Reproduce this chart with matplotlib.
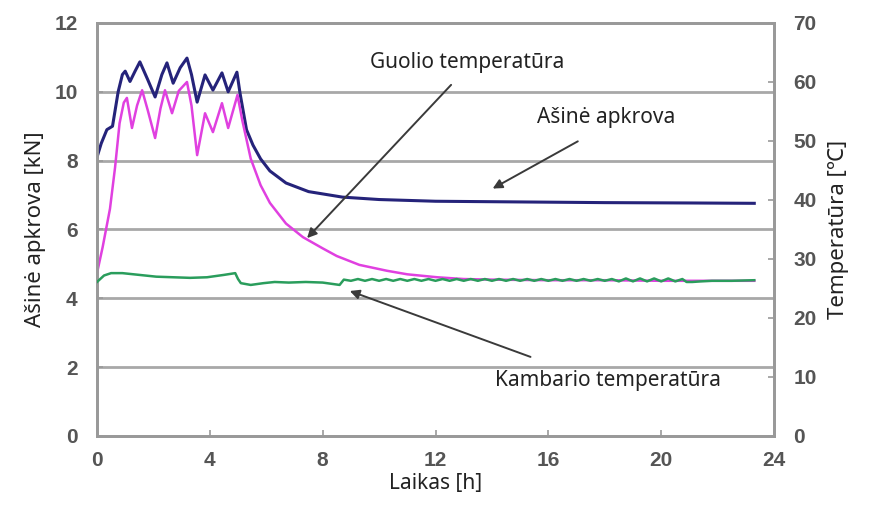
import numpy as np
import matplotlib
matplotlib.use('Agg')
import matplotlib.pyplot as plt

# axial load [kN]
load_t = [0, 0.15, 0.35, 0.55, 0.75, 0.9, 1.0, 1.17, 1.35, 1.52, 1.8, 2.06, 2.3, 2.48, 2.7, 2.95,
          3.19, 3.35, 3.55, 3.83, 4.11, 4.43, 4.65, 4.96, 5.07, 5.3, 5.53, 5.8, 6.13, 6.7, 7.5, 8.7,
          10, 12, 15, 18, 21, 23.3]
load_kn = [8.1, 8.5, 8.9, 9.0, 10.0, 10.5, 10.6, 10.3, 10.6, 10.87, 10.35, 9.85, 10.5, 10.84, 10.25, 10.7,
           10.98, 10.5, 9.7, 10.49, 10.05, 10.55, 10.0, 10.57, 9.96, 8.9, 8.45, 8.05, 7.7, 7.35, 7.1, 6.94,
           6.87, 6.82, 6.8, 6.78, 6.77, 6.76]

# bearing temperature [C]
bear_t = [0, 0.2, 0.46, 0.64, 0.8, 0.95, 1.06, 1.24, 1.42, 1.6, 1.8, 2.06, 2.25, 2.41, 2.66, 2.9,
          3.19, 3.35, 3.55, 3.83, 4.11, 4.43, 4.65, 4.98, 5.15, 5.45, 5.8, 6.13, 6.7, 7.3, 8.0, 8.5,
          9.3, 10.28, 11.0, 12.06, 13.0, 14.0, 16.0, 18.0, 20.0, 22.0, 23.3]
bear_c = [27.6, 32.0, 38.5, 45.5, 53.0, 56.5, 57.3, 52.2, 56.0, 58.6, 55.2, 50.5, 55.5, 58.6, 54.7, 58.5,
          60.0, 56.0, 47.6, 54.7, 51.5, 56.4, 52.2, 57.8, 53.5, 47.0, 42.5, 39.5, 36.0, 33.7, 31.8, 30.5,
          29.0, 28.0, 27.4, 26.9, 26.6, 26.5, 26.4, 26.4, 26.3, 26.3, 26.3]

# room temperature [C]
room_t = [0, 0.25, 0.5, 0.9, 1.5, 2.1, 2.7, 3.3, 3.9, 4.5, 4.9, 5.0, 5.1, 5.45, 5.9, 6.3, 6.8, 7.4, 8.0, 8.6, 8.75,
          9.0, 9.25, 9.5, 9.75, 10.0, 10.25, 10.5, 10.75, 11.0, 11.25, 11.5, 11.75,
          12.0, 12.25, 12.5, 12.75, 13.0, 13.25, 13.5, 13.75, 14.0, 14.25, 14.5, 14.75,
          15.0, 15.25, 15.5, 15.75, 16.0, 16.25, 16.5, 16.75, 17.0, 17.25, 17.5, 17.75,
          18.0, 18.25, 18.5, 18.75, 19.0, 19.25, 19.5, 19.75, 20.0, 20.25, 20.5, 20.75,
          20.9, 21.1, 21.4, 21.8, 22.5, 23.3]
room_c = [26.1, 27.2, 27.6, 27.6, 27.3, 27.0, 26.9, 26.8, 26.9, 27.3, 27.6, 26.6, 25.9, 25.6, 25.9, 26.1, 26.0, 26.1, 26.0, 25.6, 26.5,
          26.3, 26.6, 26.3, 26.6, 26.3, 26.6, 26.3, 26.6, 26.3, 26.6, 26.3, 26.6,
          26.3, 26.6, 26.3, 26.6, 26.3, 26.6, 26.3, 26.6, 26.3, 26.6, 26.3, 26.6,
          26.3, 26.6, 26.3, 26.6, 26.3, 26.6, 26.3, 26.6, 26.3, 26.6, 26.3, 26.6,
          26.3, 26.6, 26.2, 26.7, 26.2, 26.7, 26.2, 26.7, 26.2, 26.7, 26.2, 26.6,
          26.1, 26.1, 26.2, 26.3, 26.3, 26.4]

xticks = [0, 4, 8, 12, 16, 20, 24]
yticks_left = [0, 2, 4, 6, 8, 10, 12]
yticks_right = [0, 10, 20, 30, 40, 50, 60, 70]

grid_col = '#a8a8a8'
tick_col = '#555555'
txt_font = ['Noto Sans', 'DejaVu Sans']

fig = plt.figure(figsize=(8.85, 5.22), dpi=100)
ax = fig.add_axes([0.1096, 0.1648, 0.765, 0.7912])
ax2 = ax.twinx()

ax.set_xlim(0, 24)
ax.set_ylim(0, 12)
ax2.set_ylim(0, 70)

for y in yticks_left[1:-1]:
    ax.axhline(y, color=grid_col, lw=2, zorder=0)

ax2.plot(bear_t, bear_c, color='#e040e0', lw=1.8, zorder=2)
ax2.plot(room_t, room_c, color='#2a9d5c', lw=1.8, zorder=3)
ax.plot(load_t, load_kn, color='#25237a', lw=2.2, zorder=3)

ax.set_xticks(xticks)
ax.set_yticks(yticks_left)
ax2.set_yticks(yticks_right)
for a in (ax, ax2):
    for s in a.spines.values():
        s.set_color('#999999')
        s.set_linewidth(2)
    a.tick_params(direction='in', color='#999999', length=4, width=1.2, labelcolor=tick_col)
    for lab in a.get_xticklabels() + a.get_yticklabels():
        lab.set_fontweight('bold')
        lab.set_fontsize(15)
        lab.set_family('Liberation Sans')
ax.tick_params(axis='y', pad=14)
ax.tick_params(axis='x', pad=11)
ax2.tick_params(axis='y', pad=14)

ax.set_xlabel('Laikas [h]', fontsize=15, family=txt_font, color='#222222', labelpad=2)
ax.set_ylabel('Ašinė apkrova [kN]', fontsize=16, family=txt_font, color='#222222', labelpad=6)
ax2.set_ylabel('Temperatūra [℃]', fontsize=16, family=txt_font, color='#222222', labelpad=8)

arrow = dict(arrowstyle='-|>', color='#3a3a3a', lw=1.4, mutation_scale=14)
ax2.annotate('', xy=(7.38, 5.69), xytext=(12.62, 10.26), xycoords=ax.transData,
             textcoords=ax.transData, arrowprops=arrow)
ax2.annotate('', xy=(13.94, 7.15), xytext=(17.13, 8.6), xycoords=ax.transData,
             textcoords=ax.transData, arrowprops=arrow)
ax2.annotate('', xy=(8.87, 4.24), xytext=(15.46, 2.27), xycoords=ax.transData,
             textcoords=ax.transData, arrowprops=arrow)

ax.text(13.12, 10.84, 'Guolio temperatūra', fontsize=15, family=txt_font, color='#222222',
        ha='center', va='center')
ax.text(18.05, 9.24, 'Ašinė apkrova', fontsize=15, family=txt_font, color='#222222',
        ha='center', va='center')
ax.text(18.12, 1.6, 'Kambario temperatūra', fontsize=15, family=txt_font, color='#222222',
        ha='center', va='center')

fig.savefig('out.png', dpi=100)
